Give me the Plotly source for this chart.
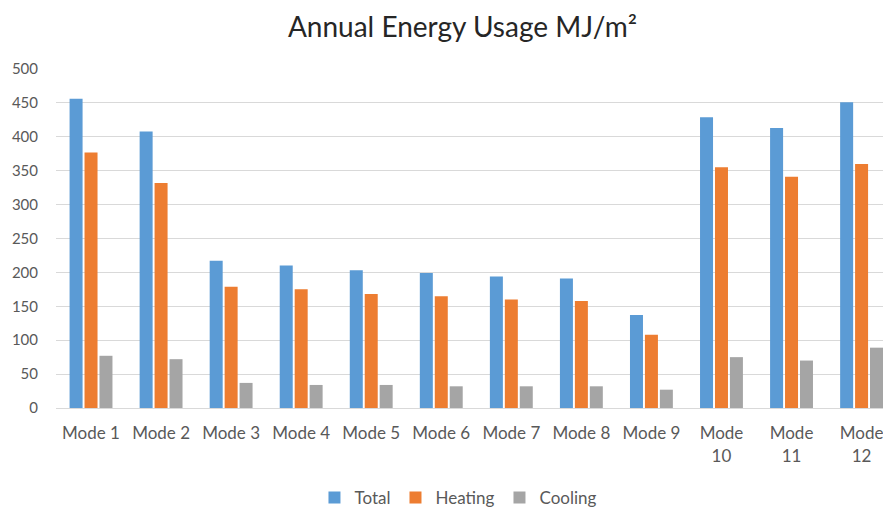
import plotly.graph_objects as go

categories = ["Mode 1", "Mode 2", "Mode 3", "Mode 4", "Mode 5", "Mode 6",
              "Mode 7", "Mode 8", "Mode 9", "Mode<br>10", "Mode<br>11", "Mode<br>12"]
total = [456, 408, 217, 210, 203, 199, 194, 191, 137, 429, 413, 451]
heating = [377, 332, 179, 175, 168, 165, 160, 158, 108, 355, 341, 360]
cooling = [77, 72, 37, 34, 34, 32, 32, 32, 27, 75, 70, 89]
y_ticks = [0, 50, 100, 150, 200, 250, 300, 350, 400, 450, 500]

font_family = "Lato, 'Open Sans', sans-serif"

fig = go.Figure()
fig.add_trace(go.Bar(name="Total", x=categories, y=total, marker_color="#5B9BD5",
                     marker_line_width=0))
fig.add_trace(go.Bar(name="Heating", x=categories, y=heating, marker_color="#ED7D31",
                     marker_line_width=0))
fig.add_trace(go.Bar(name="Cooling", x=categories, y=cooling, marker_color="#A5A5A5",
                     marker_line_width=0))

# page body has an 8px default margin, so the figure is sized to fit the window
fig.update_layout(
    width=883, height=501,
    paper_bgcolor="white", plot_bgcolor="white",
    margin=dict(l=48, r=0, t=61, b=101, autoexpand=False),
    barmode="group", bargap=0.36, bargroupgap=0.13,
    font=dict(family=font_family, color="#595959", size=15),
    title=dict(text="Annual Energy Usage MJ/m²", x=0.5147, xanchor="center",
               y=0.9615, yanchor="middle",
               font=dict(family=font_family, size=28, color="#262626")),
    legend=dict(orientation="h", x=0.482, xanchor="center", y=-0.265, yanchor="middle",
                font=dict(size=17, color="#595959"), itemwidth=30,
                traceorder="normal"),
    xaxis=dict(range=[-0.5, 11.42], showgrid=False, showline=False, zeroline=False,
               automargin=False,
               ticks="outside", ticklen=10, tickcolor="rgba(0,0,0,0)",
               tickfont=dict(size=17, color="#595959")),
    yaxis=dict(range=[0, 500], tickvals=y_ticks, showgrid=True, gridcolor="#D9D9D9",
               gridwidth=1, zeroline=True, zerolinecolor="#D9D9D9", zerolinewidth=1,
               automargin=False,
               showline=False, ticks="outside", ticklen=14, tickcolor="rgba(0,0,0,0)",
               tickfont=dict(size=15, color="#595959")),
)

fig.write_html("out.html")
